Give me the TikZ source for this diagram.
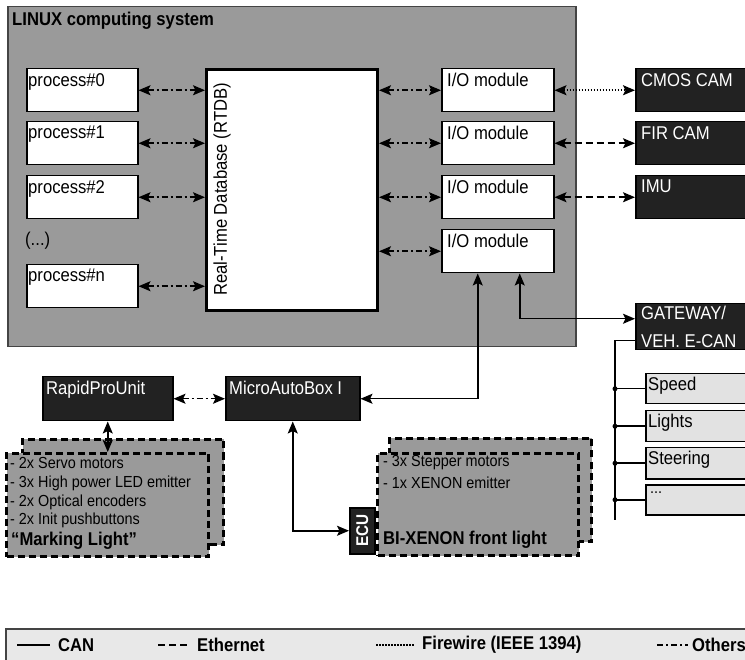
\documentclass[tikz,border=0pt]{standalone}
\usepackage{fontspec}
\setmainfont{Liberation Sans}[FakeStretch=0.9]
\usetikzlibrary{arrows.meta}
\definecolor{sysgray}{HTML}{9A9A9A}
\definecolor{darkbox}{HTML}{222222}
\definecolor{lightbox}{HTML}{E2E2E2}
\definecolor{legendfill}{HTML}{E8E8E8}
\definecolor{legendline}{HTML}{444444}
\newcommand\mybig{\fontsize{18.5}{22}\selectfont}
\newcommand\mysmall{\fontsize{16}{19}\selectfont}
\tikzset{
  every node/.style={font=\mybig},
  boxbase/.style={anchor=north west, inner sep=0pt, line width=1.5pt},
  wbox/.style={boxbase, draw=black, fill=white, minimum width=111pt, minimum height=43pt},
  iobox/.style={wbox, minimum width=112pt},
  bbox/.style={boxbase, draw=black, fill=darkbox, minimum width=130pt, minimum height=43pt},
  gbox/.style={boxbase, draw=black, fill=lightbox, minimum width=120pt, minimum height=30pt},
  dbox/.style={boxbase, draw=black, line width=3pt, dash pattern=on 7pt off 4pt, fill=sysgray},
  lbl/.style={anchor=north west, inner sep=0pt},
  wlbl/.style={lbl, text=white},
  small/.style={anchor=west, inner sep=0pt, font=\mysmall},
  conn/.style={line width=1.5pt},
  both/.style={{Stealth[length=12pt,width=10pt,inset=2.5pt]}-{Stealth[length=12pt,width=10pt,inset=2.5pt]}},
  othersline/.style={conn, dash pattern=on 6pt off 3pt on 2pt off 3pt},
  ethline/.style={conn, dash pattern=on 7pt off 4pt},
  fireline/.style={conn, dash pattern=on 1.5pt off 1.5pt},
  busdot/.style={circle, fill=black, inner sep=0pt, minimum size=5pt},
}
\begin{document}
\begin{tikzpicture}[x=1pt, y=-1pt]
\clip (0,0) rectangle (745,660);
\fill[white] (0,0) rectangle (745,660);

% LINUX system
\node[boxbase, draw=legendline, fill=sysgray, minimum width=568pt, minimum height=340pt] (linux) at (7,6) {};
\node[lbl, font=\mybig\bfseries] (linuxt) at ([xshift=5pt,yshift=-6pt]linux.north west) {LINUX computing system};

% processes
\node[wbox] (p0) at (26,68) {};
\node[wbox] (p1) at (26,121) {};
\node[wbox] (p2) at (26,175) {};
\node[wbox] (pn) at (26,264) {};
\node[lbl] (p0t) at ([xshift=2pt,yshift=-5pt]p0.north west) {process\#0};
\node[lbl] (p1t) at ([xshift=2pt,yshift=-5pt]p1.north west) {process\#1};
\node[lbl] (p2t) at ([xshift=2pt,yshift=-5pt]p2.north west) {process\#2};
\node[lbl] (pnt) at ([xshift=2pt,yshift=-5pt]pn.north west) {process\#n};
\node[anchor=west, inner sep=0pt] (dots) at (25,241) {(...)};

% RTDB
\node[boxbase, draw=black, fill=white, line width=3pt, minimum width=171pt, minimum height=241pt] (rtdb) at (205,68) {};
\node[rotate=90, anchor=west, inner sep=0pt] (rtdbt) at (222,296) {Real-Time Database (RTDB)};

% I/O modules
\node[iobox] (io1) at (441,68) {};
\node[iobox] (io2) at (441,121) {};
\node[iobox] (io3) at (441,175) {};
\node[iobox] (io4) at (441,229) {};
\foreach \n in {io1,io2,io3,io4}
  \node[lbl] (\n t) at ([xshift=6pt,yshift=-5pt]\n.north west) {I/O module};

% external devices
\node[bbox] (cmos) at (635,68) {};
\node[bbox] (fir) at (635,121) {};
\node[bbox] (imu) at (635,175) {};
\node[bbox, minimum height=46pt] (gw) at (635,303) {};
\node[wlbl] (cmost) at ([xshift=6pt,yshift=-5pt]cmos.north west) {CMOS CAM};
\node[wlbl] (firt) at ([xshift=6pt,yshift=-5pt]fir.north west) {FIR CAM};
\node[wlbl] (imut) at ([xshift=6pt,yshift=-5pt]imu.north west) {IMU};
\node[wlbl, align=left, font=\fontsize{18.5}{28}\selectfont] (gwt) at ([xshift=6pt,yshift=-3pt]gw.north west) {GATEWAY/\\VEH. E-CAN};

% vehicle bus items
\node[gbox] (speed) at (645,373) {};
\node[gbox, minimum height=31pt] (lights) at (645,410) {};
\node[gbox, minimum height=31pt] (steer) at (645,447) {};
\node[gbox] (more) at (645,484) {};
\node[lbl] (speedt) at ([xshift=3pt,yshift=-4pt]speed.north west) {Speed};
\node[lbl] (lightst) at ([xshift=3pt,yshift=-4pt]lights.north west) {Lights};
\node[lbl] (steert) at ([xshift=3pt,yshift=-4pt]steer.north west) {Steering};
\node[lbl, font=\mysmall] (moret) at ([xshift=5pt,yshift=-8pt]more.north west) {...};

% dSPACE units
\node[bbox, minimum width=130pt, minimum height=44pt] (rpu) at (42,376) {};
\node[bbox, minimum width=134pt, minimum height=44pt] (mab) at (225,376) {};
\node[wlbl] (rput) at ([xshift=4pt,yshift=-5pt]rpu.north west) {RapidProUnit};
\node[wlbl] (mabt) at ([xshift=4pt,yshift=-5pt]mab.north west) {MicroAutoBox I};

% Marking light
\node[dbox, minimum width=201pt, minimum height=105pt] (mlb) at (21,438) {};
\node[dbox, minimum width=202pt, minimum height=103pt] (mlf) at (5,452) {};
\node[small] (ml1) at (10,463) {- 2x Servo motors};
\node[small] (ml2) at (10,483) {- 3x High power LED emitter};
\node[small] (ml3) at (10,502) {- 2x Optical encoders};
\node[small] (ml4) at (10,520) {- 2x Init pushbuttons};
\node[anchor=west, inner sep=0pt, font=\mybig\bfseries] (ml5) at (11,541) {“Marking Light”};

% BI-XENON
\node[dbox, minimum width=202pt, minimum height=103pt] (bxb) at (388,437) {};
\node[dbox, minimum width=201pt, minimum height=102pt] (bxf) at (376,452) {};
\node[small] (bx1) at (383,463) {- 3x Stepper motors};
\node[small] (bx2) at (383,483) {- 1x XENON emitter};
\node[anchor=west, inner sep=0pt, font=\mybig\bfseries] (bx3) at (383,540) {BI-XENON front light};
\node[boxbase, draw=black, fill=darkbox, minimum width=25pt, minimum height=46pt] (ecu) at (349,507) {};
\node[rotate=90, text=white, inner sep=0pt, font=\fontsize{17}{20}\selectfont\bfseries] (ecut) at (ecu.center) {ECU};

% connectors: processes <-> RTDB
\foreach \p in {p0,p1,p2,pn}
  \draw[othersline, both] (\p.east) -- (\p.east -| rtdb.west);
% RTDB <-> I/O
\foreach \n in {io1,io2,io3,io4}
  \draw[othersline, both] (\n.west -| rtdb.east) -- (\n.west);
% I/O <-> devices
\draw[fireline, both] (io1.east) -- (cmos.west);
\draw[ethline, both] (io2.east) -- (fir.west);
\draw[ethline, both] (io3.east) -- (imu.west);
% CAN links
\draw[conn, both] ([xshift=22pt]io4.south) |- ([yshift=8pt]gw.west);
\draw[conn, both] ([xshift=-20pt]io4.south) |- (mab.east);
\draw[othersline, both] (rpu.east) -- (mab.west);
\draw[conn, both] (rpu.south) -- (rpu.south |- mlf.north);
\draw[conn, both] (mab.south) |- (ecu.west);

% vehicle CAN bus
\coordinate (busend) at (615,520);
\draw[conn] ([yshift=-14pt]gw.west) -| (busend);
\foreach \b in {speed,lights,steer,more}{
  \draw[conn] (\b.west -| busend) -- (\b.west);
  \node[busdot] (\b dot) at (\b.west -| busend) {};
}

% legend
\node[boxbase, draw=legendline, line width=2pt, fill=legendfill, minimum width=780pt, minimum height=60pt] (legend) at (5,628) {};
\draw[conn] (17,645) -- (50,645);
\node[anchor=west, inner sep=0pt, font=\mybig\bfseries] (lcan) at (58,645) {CAN};
\draw[ethline] (158,645) -- (188,645);
\node[anchor=west, inner sep=0pt, font=\mybig\bfseries] (leth) at (197,645) {Ethernet};
\draw[fireline, line width=1.2pt] (376,645) -- (415,645);
\node[anchor=west, inner sep=0pt, font=\mybig\bfseries] (lfire) at (422,645) {Firewire (IEEE 1394)};
\draw[othersline] (657,645) -- (688,645);
\node[anchor=west, inner sep=0pt, font=\mybig\bfseries] (loth) at (692,645) {Others};
\end{tikzpicture}
\end{document}
